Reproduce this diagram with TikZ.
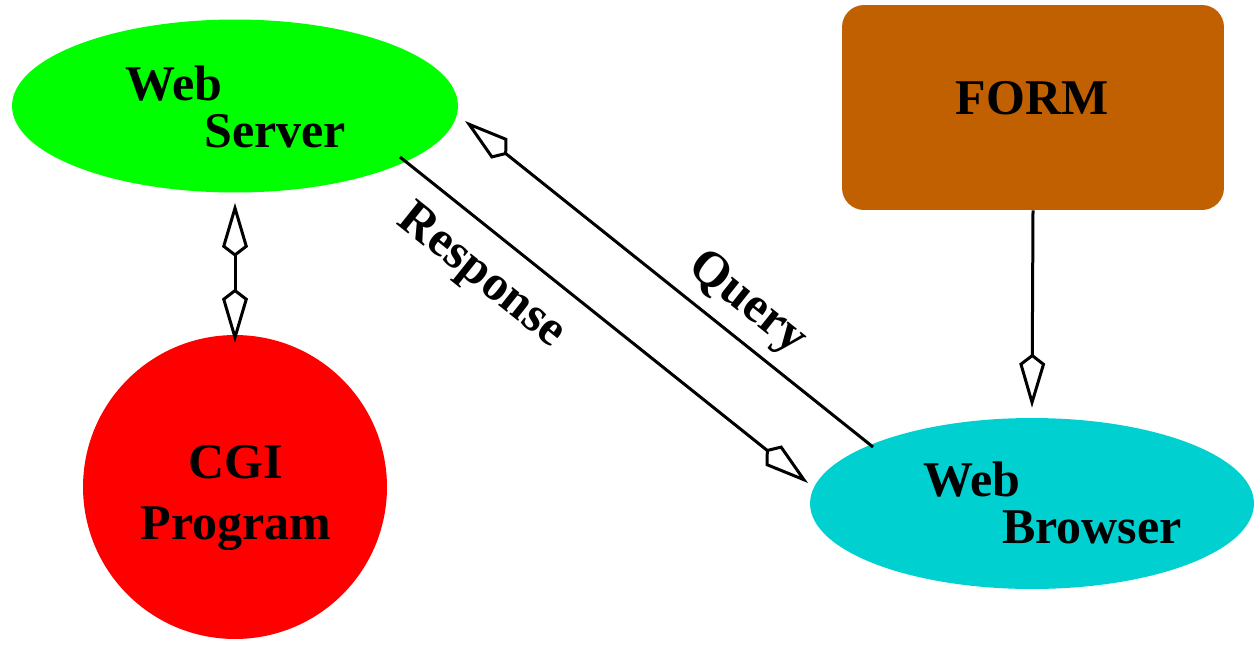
\documentclass[tikz,border=0pt]{standalone}
\usepackage{fontspec}
\setmainfont{Liberation Serif}
\usetikzlibrary{arrows.meta,shapes.geometric}
\definecolor{srvgreen}{RGB}{0,255,0}
\definecolor{cgired}{RGB}{255,0,0}
\definecolor{brwcyan}{RGB}{0,208,208}
\definecolor{formbrown}{RGB}{192,96,0}
\tikzset{
  lbl/.style={inner sep=0pt, font=\fontsize{28.45}{26.7}\selectfont\bfseries},
  blob/.style={draw=none, inner sep=0pt},
  kitetip/.tip={Kite[length=1.08cm, width=0.52cm, inset=0.2cm, fill=white]},
  conn/.style={line width=0.06cm, line join=miter, -kitetip},
  dconn/.style={line width=0.06cm, line join=miter, kitetip-kitetip},
}
\begin{document}
\begin{tikzpicture}[x=0.02cm, y=-0.02cm]
  \useasboundingbox (0,0) rectangle (1257,646);

  % shapes
  \node[blob, ellipse, fill=srvgreen, minimum width=8.92cm, minimum height=3.46cm] (ws) at (235,106) {};
  \node[blob, circle, fill=cgired, minimum size=6.08cm] (cgi) at (235,487) {};
  \node[blob, ellipse, fill=brwcyan, minimum width=8.88cm, minimum height=3.42cm] (wb) at (1032,503.5) {};
  \node[blob, rectangle, rounded corners=0.44cm, fill=formbrown, minimum width=7.64cm, minimum height=4.1cm] (form) at (1033,107.5) {};

  % texts
  \node[lbl, align=left] (wst) at (235.5,107) {Web\\\hspace*{1.58cm}Server};
  \node[lbl, align=center] (cgit) at (236,498) {CGI\\[0.28cm]Program};
  \node[lbl, align=left] (wbt) at (1052.5,503) {Web\\\hspace*{1.58cm}Browser};
  \node[lbl] (formt) at (1032,98.5) {FORM};

  % free ends of the two diagonal connectors
  \coordinate (rs) at (400,157);
  \coordinate (re) at (808,483);
  \coordinate (qs) at (873,447);
  \coordinate (qe) at (465,121);

  % connectors
  \draw[dconn] ([yshift=-0.2cm]ws.south) -- ([yshift=-0.16cm]cgi.north);
  \draw[conn] (rs) -- (re);
  \draw[conn] (qs) -- (qe);
  \draw[conn] (form.south) -- ([yshift=0.2cm]wb.north);

  % connector labels
  \node[lbl, rotate=-38.6] (rl) at (481,277) {Response};
  \node[lbl, rotate=-38.6] (ql) at (747,304) {Query};
\end{tikzpicture}
\end{document}
